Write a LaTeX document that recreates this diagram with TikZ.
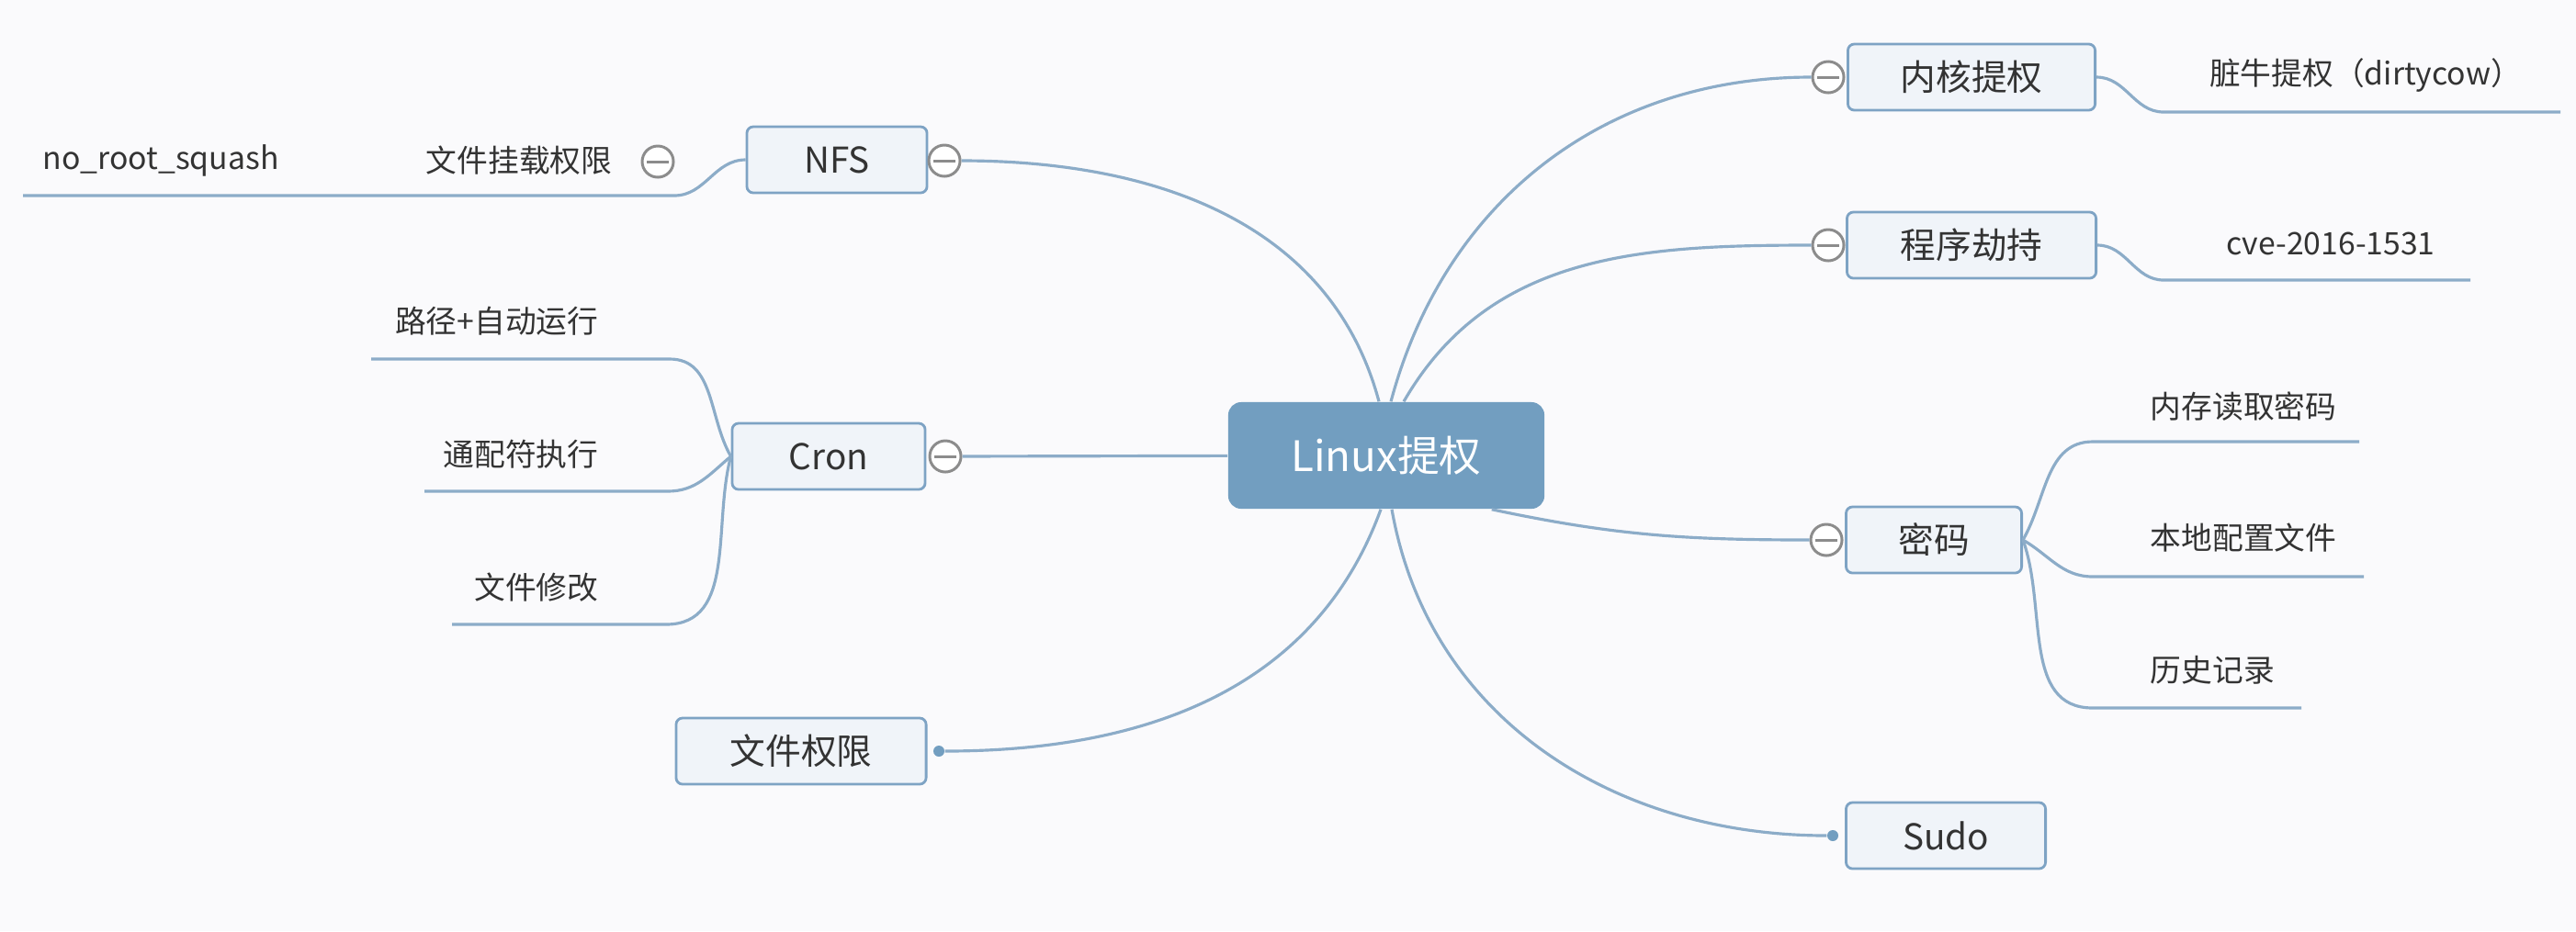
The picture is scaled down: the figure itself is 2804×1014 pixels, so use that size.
\documentclass[tikz,border=0pt]{standalone}
\usepackage{fontspec}
\setmainfont{Noto Sans CJK SC}
\usepackage{tikz}
\usetikzlibrary{calc}
\definecolor{bgcol}{RGB}{250,250,252}
\definecolor{linecol}{RGB}{140,172,200}
\definecolor{boxline}{RGB}{126,163,196}
\definecolor{boxfill}{RGB}{240,244,249}
\definecolor{rootfill}{RGB}{114,158,192}
\definecolor{txt}{RGB}{51,51,51}
\definecolor{foldcol}{RGB}{140,140,140}

\tikzset{
  root/.style={rectangle, rounded corners=4pt, fill=rootfill, text=white, font=\fontsize{13}{15}\selectfont, minimum width=3.44cm, minimum height=1.16cm},
  topic/.style={rectangle, rounded corners=2pt, draw=boxline, fill=boxfill, line width=0.8pt, text=txt, font=\fontsize{11}{13}\selectfont, minimum height=0.72cm},
  sub/.style={inner sep=0pt, text=txt, font=\fontsize{9.6}{11}\selectfont},
  fold/.style={circle, draw=foldcol, fill=white, line width=0.85pt, inner sep=0pt, minimum size=0.34cm,
    path picture={\draw[foldcol, line width=0.85pt] ([xshift=1.4pt]path picture bounding box.west) -- ([xshift=-1.4pt]path picture bounding box.east);}},
  bullet/.style={circle, fill=rootfill, inner sep=0pt, minimum size=0.12cm},
  conn/.style={draw=linecol, line width=0.9pt},
}

\begin{document}
\begin{tikzpicture}[x=0.01cm, y=-0.01cm]
        \fill[bgcol] (0,0) rectangle (2804,1014);
        % centre
        \node[root] (root) at (1509,496) {Linux提权};
        % main topics
        \node[topic, minimum width=1.96cm] (nfs) at (911,174) {NFS};
        \node[fold] (nfsF) at (1028,175) {};
        \node[topic, minimum width=2.10cm] (cron) at (902,497) {Cron};
        \node[fold] (cronF) at (1029,497) {};
        \node[topic, minimum width=2.72cm] (perm) at (872,818) {文件权限};
        \node[bullet] (permD) at (1022,818) {};
        \node[topic, minimum width=2.69cm] (kernel) at (2146,84) {内核提权};
        \node[fold] (kernelF) at (1990,84) {};
        \node[topic, minimum width=2.71cm] (hijack) at (2146,267) {程序劫持};
        \node[fold] (hijackF) at (1990,267) {};
        \node[topic, minimum width=1.91cm] (pwd) at (2105,588) {密码};
        \node[fold] (pwdF) at (1988,588) {};
        \node[topic, minimum width=2.17cm] (sudo) at (2118,910) {Sudo};
        \node[bullet] (sudoD) at (1995,910) {};
        % sub topics
        \node[sub] (mount) at (565,175) {文件挂载权限};
        \node[fold] (mountF) at (716,176) {};
        \node[sub] (squash) at (175,175) {no\_root\_squash};
        \node[sub, anchor=east] (autorun) at (652,350) {路径+自动运行};
        \node[sub, anchor=east] (wild) at (652,495) {通配符执行};
        \node[sub, anchor=east] (modify) at (652,640) {文件修改};
        \node[sub] (cow) at (2575,82) {脏牛提权（dirtycow）};
        \node[sub] (cve) at (2537,265) {cve-2016-1531};
        \node[sub, anchor=west] (memory) at (2340,443) {内存读取密码};
        \node[sub, anchor=west] (config) at (2340,586) {本地配置文件};
        \node[sub, anchor=west] (history) at (2340,730) {历史记录};
        % underline ends
        \coordinate (mountR) at (734,213);
        \coordinate (squashL) at (25,213);
        \coordinate (autorunR) at (729,391);
        \coordinate (autorunL) at (404,391);
        \coordinate (wildR) at (727,535);
        \coordinate (wildL) at (462,535);
        \coordinate (modifyR) at (725,680);
        \coordinate (modifyL) at (492,680);
        \coordinate (cowL) at (2355,122);
        \coordinate (cowR) at (2787,122);
        \coordinate (cveL) at (2355,305);
        \coordinate (cveR) at (2689,305);
        \coordinate (memoryL) at (2278,481);
        \coordinate (memoryR) at (2568,481);
        \coordinate (configL) at (2278,628);
        \coordinate (configR) at (2573,628);
        \coordinate (historyL) at (2278,771);
        \coordinate (historyR) at (2505,771);
        % branches from the centre
        \draw[conn] ([xshift=-0.08cm]root.north) to[out=105, in=0] (nfsF);
        \draw[conn] ([xshift=0.05cm]root.north) to[out=75, in=180] (kernelF);
        \draw[conn] ([xshift=0.19cm]root.north) to[out=60, in=180] (hijackF);
        \draw[conn] ([xshift=-0.58cm]root.south east) to[out=-12, in=180] (pwdF);
        \draw[conn] ([xshift=0.06cm]root.south) to[out=-80, in=180] (sudoD);
        \draw[conn] ([xshift=-0.06cm]root.south) to[out=-110, in=0] (permD);
        \draw[conn] (cronF) -- (root);
        % branches to sub topics
        \draw[conn] (nfs.west) to[out=180, in=0] (mountR) -- (squashL);
        \draw[conn] (cron.west) to[out=120, in=0] (autorunR) -- (autorunL);
        \draw[conn] (cron.west) to[out=-140, in=0] (wildR) -- (wildL);
        \draw[conn] (cron.west) to[out=-105, in=0] (modifyR) -- (modifyL);
        \draw[conn] (kernel.east) to[out=0, in=180] (cowL) -- (cowR);
        \draw[conn] (hijack.east) to[out=0, in=180] (cveL) -- (cveR);
        \draw[conn] (pwd.east) to[out=60, in=180] (memoryL) -- (memoryR);
        \draw[conn] (pwd.east) to[out=-30, in=180] (configL) -- (configR);
        \draw[conn] (pwd.east) to[out=-70, in=180] (historyL) -- (historyR);
\end{tikzpicture}
\end{document}
